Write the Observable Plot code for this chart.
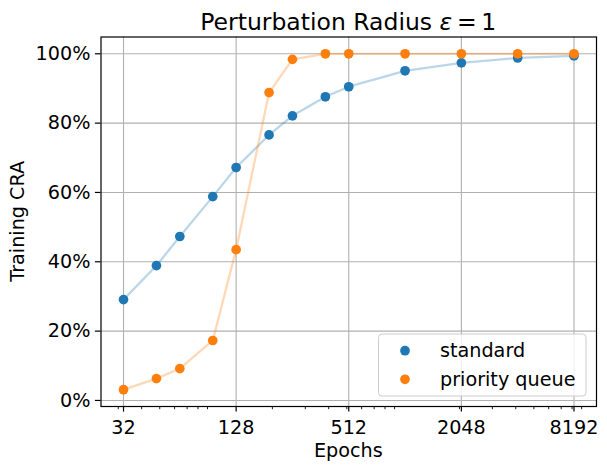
<!DOCTYPE html>
<html>
<head>
<meta charset="utf-8">
<script src="https://cdn.jsdelivr.net/npm/d3@7"></script>
<script src="https://cdn.jsdelivr.net/npm/@observablehq/plot@0.6"></script>
<style>
  html, body { margin: 0; padding: 0; background: #fff; }
  #chart { position: relative; width: 607px; height: 469px; }
  svg { font-family: "DejaVu Sans", sans-serif; }
</style>
</head>
<body>
<div id="chart"></div>
<script>
// ---- data ----
const epochs = [32, 48, 64, 96, 128, 192, 256, 384, 512, 1024, 2048, 4096, 8192];
const standard = [29.1, 38.9, 47.3, 58.8, 67.2, 76.6, 82.1, 87.6, 90.5, 95.1, 97.4, 98.8, 99.4];
const priorityQueue = [3.1, 6.3, 9.2, 17.3, 43.5, 88.8, 98.4, 100, 100, 100, 100, 100, 100];
const seriesNames = ["standard", "priority queue"];
const seriesColors = ["#1f77b4", "#ff7f0e"];
const xTicks = [32, 128, 512, 2048, 8192];
const xMinorTicks = [30, 40, 50, 60, 70, 80, 90, 200, 300, 400, 500, 600, 700, 800, 900,
                     2000, 3000, 4000, 5000, 6000, 7000, 8000, 9000];
const yTicks = [0, 20, 40, 60, 80, 100];
const titleText = "Perturbation Radius ";
const xLabel = "Epochs";
const yLabel = "Training CRA";

// ---- table ----
const stdRows = epochs.map((e, i) => ({epochs: e, value: standard[i], series: seriesNames[0]}));
const pqRows = epochs.map((e, i) => ({epochs: e, value: priorityQueue[i], series: seriesNames[1]}));
const rows = stdRows.concat(pqRows);

const W = 607, H = 469;
const mL = 100.5, mR = 11, mT = 36.5, mB = 63;
const FS = 19.2;
const allY = standard.concat(priorityQueue);
const yMin = d3.min(allY), yMax = d3.max(allY);
const yPad = (yMax - yMin) * 0.05;
const lx0 = Math.log2(d3.min(epochs)), lx1 = Math.log2(d3.max(epochs));
const xPad = (lx1 - lx0) * 0.05;

const svg = Plot.plot({
  width: W, height: H,
  marginLeft: mL, marginRight: mR, marginTop: mT, marginBottom: mB,
  style: {fontFamily: "DejaVu Sans, sans-serif", fontSize: FS + "px", color: "black", background: "white", overflow: "visible"},
  x: {type: "log", base: 2, domain: [2 ** (lx0 - xPad), 2 ** (lx1 + xPad)]},
  y: {domain: [yMin - yPad, yMax + yPad]},
  color: {domain: seriesNames, range: seriesColors},
  marks: [
    Plot.gridX(xTicks, {stroke: "#b0b0b0", strokeOpacity: 1, strokeWidth: 1.1}),
    Plot.gridY(yTicks, {stroke: "#b0b0b0", strokeOpacity: 1, strokeWidth: 1.1}),
    Plot.line(rows, {x: "epochs", y: "value", z: "series", stroke: "series", strokeOpacity: 0.3, strokeWidth: 2.3}),
    Plot.dot(rows, {x: "epochs", y: "value", fill: "series", r: 4.85}),
    Plot.frame({stroke: "black", strokeWidth: 1.2}),
    Plot.axisX(xTicks, {tickSize: 5.6, tickPadding: 8, tickFormat: d => String(d), label: null,
      stroke: "black", strokeWidth: 1.2, fill: "black", fontSize: FS}),
    Plot.axisX(xMinorTicks, {tickSize: 3.2, tickFormat: () => "", label: null,
      stroke: "black", strokeWidth: 0.9}),
    Plot.axisY(yTicks, {tickSize: 5.6, tickPadding: 5, tickFormat: d => d + "%", label: null,
      stroke: "black", strokeWidth: 1.2, fill: "black", fontSize: FS})
  ]
});

const s = d3.select(svg);
const cx = mL + (W - mL - mR) / 2;
// title
const t = s.append("text").attr("x", cx).attr("y", 29.5).attr("text-anchor", "middle")
  .attr("font-size", 23.5).attr("fill", "black");
t.append("tspan").text(titleText);
t.append("tspan").attr("font-style", "italic").text("ε");
t.append("tspan").text("\u2009=\u20091");
// x label
s.append("text").attr("x", cx).attr("y", 456.5).attr("text-anchor", "middle")
  .attr("font-size", FS).attr("fill", "black").text(xLabel);
// y label
s.append("text").attr("transform", `translate(24,${mT + (H - mT - mB) / 2}) rotate(-90)`)
  .attr("text-anchor", "middle").attr("font-size", FS).attr("fill", "black").text(yLabel);
// legend
const lg = s.append("g");
lg.append("rect").attr("x", 378.5).attr("y", 334).attr("width", 207.5).attr("height", 62)
  .attr("rx", 3.5).attr("fill", "white").attr("fill-opacity", 0.8)
  .attr("stroke", "#cccccc").attr("stroke-width", 1);
seriesNames.forEach((name, i) => {
  const y = 350.7 + i * 28.6;
  lg.append("circle").attr("cx", 405).attr("cy", y).attr("r", 4.85).attr("fill", seriesColors[i]);
  lg.append("text").attr("x", 440).attr("y", y + 6.5).attr("font-size", FS)
    .attr("text-anchor", "start").attr("fill", "black").text(name);
});

document.getElementById("chart").appendChild(svg);
</script>
</body>
</html>
